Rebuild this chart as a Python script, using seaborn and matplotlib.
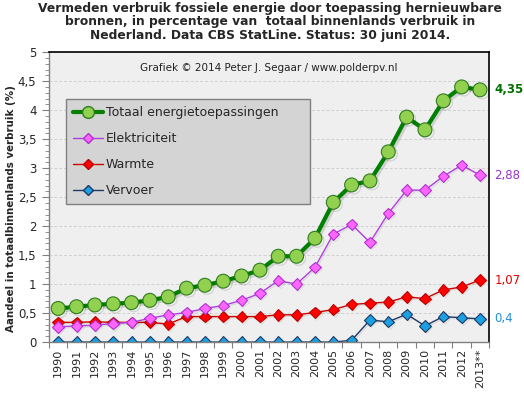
import pandas as pd
import matplotlib.pyplot as plt
import matplotlib.patheffects as pe
from matplotlib.ticker import MultipleLocator, FuncFormatter
from matplotlib.lines import Line2D
import seaborn as sns

# Data
years = ["1990", "1991", "1992", "1993", "1994", "1995", "1996", "1997",
         "1998", "1999", "2000", "2001", "2002", "2003", "2004", "2005",
         "2006", "2007", "2008", "2009", "2010", "2011", "2012", "2013**"]
totaal = [0.58, 0.61, 0.64, 0.66, 0.68, 0.72, 0.78, 0.93, 0.98, 1.05, 1.14, 1.24,
          1.48, 1.48, 1.79, 2.41, 2.71, 2.78, 3.28, 3.88, 3.66, 4.16, 4.40, 4.35]
elektriciteit = [0.26, 0.28, 0.29, 0.32, 0.34, 0.41, 0.47, 0.51, 0.58, 0.63, 0.72, 0.84,
                 1.06, 1.00, 1.29, 1.86, 2.03, 1.72, 2.22, 2.62, 2.62, 2.86, 3.05, 2.88]
warmte = [0.34, 0.34, 0.35, 0.34, 0.34, 0.34, 0.31, 0.44, 0.44, 0.44, 0.44, 0.44,
          0.47, 0.47, 0.51, 0.56, 0.65, 0.67, 0.69, 0.78, 0.75, 0.90, 0.95, 1.07]
vervoer = [0, 0, 0, 0, 0, 0, 0, 0, 0, 0, 0, 0,
           0, 0, 0, 0, 0.03, 0.38, 0.35, 0.48, 0.28, 0.44, 0.42, 0.40]
end_labels = ["4,35", "2,88", "1,07", "0,4"]

df = pd.DataFrame({
    "idx": range(len(years)),
    "Totaal energietoepassingen": totaal,
    "Elektriciteit": elektriciteit,
    "Warmte": warmte,
    "Vervoer": vervoer,
})

sns.set_style("ticks")
plt.rcParams["font.family"] = ["DejaVu Sans"]

fig = plt.figure(figsize=(5.24, 3.95), dpi=100)
ax = fig.add_axes([0.0935, 0.134, 0.84, 0.734])
ax.set_facecolor("#efefef")

big_shadow = [pe.SimpleLineShadow(offset=(1.5, -1.5), alpha=0.13, rho=0.3), pe.Normal()]
small_shadow = [pe.SimpleLineShadow(offset=(1, -1), alpha=0.08, rho=0.3), pe.Normal()]

# series: (column, line colour, marker, face, edge, lw, ms, label colour, bold)
series = [
    ("Vervoer", "#1f3864", "D", "#1ba1e2", "#1f3864", 1.0, 5.8, "#1e8fdc", False),
    ("Warmte", "#cc0000", "D", "#ff0000", "#bb0000", 1.0, 5.8, "#dd0000", False),
    ("Elektriciteit", "#b03ee0", "D", "#ff66ff", "#b030d0", 1.0, 5.8, "#9933cc", False),
    ("Totaal energietoepassingen", "#008000", "o", "#92d050", "#2e7d1e", 3.0, 10, "#007000", True),
]

for col, lc, mk, fc, ec, lw, ms, tc, bold in series:
    sns.lineplot(data=df, x="idx", y=col, ax=ax, color=lc, linewidth=lw,
                 marker=mk, markersize=ms, markerfacecolor=fc,
                 markeredgecolor=ec, markeredgewidth=0.8,
                 path_effects=big_shadow if bold else small_shadow, legend=False)

labels_by_col = {
    "Totaal energietoepassingen": end_labels[0],
    "Elektriciteit": end_labels[1],
    "Warmte": end_labels[2],
    "Vervoer": end_labels[3],
}
for col, lc, mk, fc, ec, lw, ms, tc, bold in series:
    ax.annotate(labels_by_col[col], xy=(len(years) - 1, df[col].iloc[-1]),
                xytext=(10.5, 0), textcoords="offset points", va="center",
                ha="left", fontsize=8.5, color=tc,
                fontweight="bold" if bold else "normal", annotation_clip=False)

# axes
ax.set_xlim(-0.5, len(years) - 0.5)
ax.set_ylim(0, 5)
ax.yaxis.set_major_locator(MultipleLocator(0.5))
ax.yaxis.set_minor_locator(MultipleLocator(0.1))
ax.yaxis.set_major_formatter(FuncFormatter(lambda v, p: f"{v:g}".replace(".", ",")))
ax.tick_params(axis="y", which="major", length=5, color="#808080", labelsize=8.5, pad=4)
ax.tick_params(axis="y", which="minor", length=3, color="#808080")

ax.set_xticks([i + 0.5 for i in range(-1, len(years))])
ax.set_xticklabels([])
ax.set_xticks(range(len(years)), minor=True)
ax.set_xticklabels(years, minor=True, rotation=90, fontsize=8)
ax.tick_params(axis="x", which="major", length=4, color="#808080")
ax.tick_params(axis="x", which="minor", length=0, pad=5)

ax.grid(axis="y", which="major", linestyle=(0, (3, 2)), color="#d0d0d0", linewidth=0.7)
ax.set_axisbelow(True)
for s in ["top", "right"]:
    ax.spines[s].set_color("black")
    ax.spines[s].set_linewidth(1.2)
for s in ["left", "bottom"]:
    ax.spines[s].set_color("#808080")
    ax.spines[s].set_linewidth(1.0)

ax.set_xlabel("")
ax.set_ylabel("Aandeel in totaalbinnenlands verbruik (%)", fontsize=7.4,
              fontweight="bold", labelpad=7)
ax.yaxis.set_label_coords(-0.075, 0.46)

# title and credit
fig.text(0.515, 0.995, "Vermeden verbruik fossiele energie door toepassing hernieuwbare\n"
         "bronnen, in percentage van  totaal binnenlands verbruik in\n"
         "Nederland. Data CBS StatLine. Status: 30 juni 2014.",
         ha="center", va="top", fontsize=8.8, fontweight="bold", linespacing=1.05)
ax.text(0.5, 0.945, "Grafiek \u00a9 2014 Peter J. Segaar / www.polderpv.nl",
        transform=ax.transAxes, ha="center", va="center", fontsize=7.5, color="#222222")

# legend
handles = []
for col in ["Totaal energietoepassingen", "Elektriciteit", "Warmte", "Vervoer"]:
    for c, lc, mk, fc, ec, lw, ms, tc, bold in series:
        if c == col:
            handles.append(Line2D([], [], color=lc, linewidth=lw, marker=mk,
                                  markersize=ms * 0.85, markerfacecolor=fc,
                                  markeredgecolor=ec, label=col))
leg = ax.legend(handles=handles, loc="upper left", bbox_to_anchor=(0.039, 0.838, 0.554, 0.0),
                mode="expand", fontsize=9, frameon=True, fancybox=False,
                framealpha=1, labelspacing=1.05, borderpad=0.55, handlelength=2.4,
                handletextpad=0.2, borderaxespad=0)
leg.get_frame().set_facecolor("#d4d4d4")
leg.get_frame().set_edgecolor("#808080")
leg.get_frame().set_linewidth(1.0)

fig.savefig("out.png", dpi=100)
